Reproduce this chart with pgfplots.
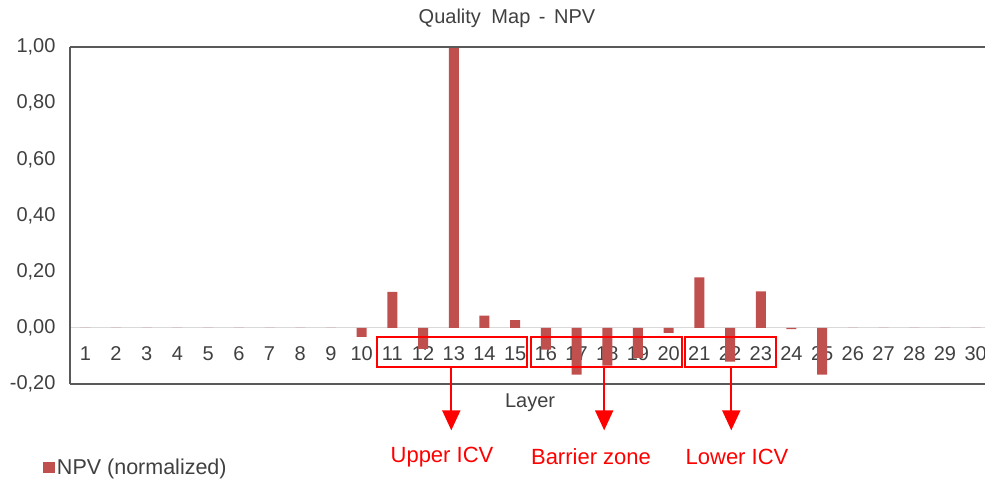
\documentclass[border=0pt]{standalone}
\usepackage{fontspec}
\setmainfont{Liberation Sans}
\usepackage{pgfplots}
\pgfplotsset{compat=1.18}
\usetikzlibrary{arrows.meta}
\definecolor{barred}{HTML}{C0504D}
\definecolor{txt}{HTML}{404040}
\definecolor{axisline}{HTML}{595959}
\definecolor{zeroline}{HTML}{D9D9D9}
\newcommand{\lblfont}{\fontsize{20bp}{24bp}\selectfont}
\newcommand{\legfont}{\fontsize{21.5bp}{25bp}\selectfont}
\newcommand{\notefont}{\fontsize{22bp}{26bp}\selectfont}

\begin{document}
\begin{tikzpicture}[x=1bp,y=1bp]
\useasboundingbox (0,0) rectangle (985,481);
\begin{axis}[
  at={(70bp,97bp)}, anchor=south west,
  width=921bp, height=337bp, scale only axis,
  xmin=0.5, xmax=30.5, ymin=-0.2, ymax=1.0,
  axis y line*=left, axis x line*=middle,
  hide obscured x ticks=false, hide obscured y ticks=false,
  x axis line style={zeroline, line width=1bp},
  y axis line style={axisline, line width=1.5bp},
  xtick={1,...,30},
  ytick={-0.2,0,0.2,0.4,0.6,0.8,1.0},
  major tick length=0,
  ticklabel style={font=\lblfont, text=txt},
  xticklabel style={yshift=-15.5bp, /pgf/number format/assume math mode=true},
  yticklabel style={xshift=-11bp,
    /pgf/number format/.cd, fixed, fixed zerofill, precision=2, use comma, assume math mode=true},
  xlabel={Layer},
  xlabel style={at={(axis description cs:0.4995,-0.056)}, anchor=center, font=\lblfont, text=txt},
  legend style={at={(axis description cs:-0.029,-0.249)}, anchor=west, draw=none, fill=none,
    font=\legfont, text=txt, inner sep=0pt, nodes={inner sep=1.5bp}},
  legend image code/.code={\fill[barred] (0bp,-5.5bp) rectangle (12bp,5.5bp);},
  clip=false,
]
% normalized NPV per layer
\addplot[ybar, bar width=10bp, bar shift=0pt, fill=barred, draw=none] coordinates {
  (1,0) (2,0) (3,0) (4,0) (5,0) (6,0) (7,0) (8,0) (9,0)
  (10,-0.032) (11,0.128) (12,-0.075) (13,1.00) (14,0.043) (15,0.027)
  (16,-0.078) (17,-0.167) (18,-0.135) (19,-0.107) (20,-0.018)
  (21,0.180) (22,-0.120) (23,0.130) (24,-0.005) (25,-0.167)
  (26,0) (27,0) (28,0) (29,0) (30,0)
};
\addlegendentry{NPV (normalized)}
% frame lines at top and bottom
\draw[axisline, line width=1.5bp] (rel axis cs:0,1) -- (rel axis cs:1,1);
\draw[axisline, line width=1.5bp] (rel axis cs:0,0) -- (rel axis cs:1,0);
% zone boxes
\draw[red, line width=2bp] (axis cs:10.51,-0.032) rectangle (axis cs:15.40,-0.139);
\draw[red, line width=2bp] (axis cs:15.53,-0.032) rectangle (axis cs:20.45,-0.139);
\draw[red, line width=2bp] (axis cs:20.54,-0.032) rectangle (axis cs:23.48,-0.139);
% arrows to zone labels
\draw[red, line width=2bp, -{Triangle[width=18bp,length=20bp]}] (axis cs:12.92,-0.139) -- (axis cs:12.92,-0.365);
\draw[red, line width=2bp, -{Triangle[width=18bp,length=20bp]}] (axis cs:17.90,-0.139) -- (axis cs:17.90,-0.365);
\draw[red, line width=2bp, -{Triangle[width=18bp,length=20bp]}] (axis cs:22.04,-0.139) -- (axis cs:22.04,-0.365);
\end{axis}
\node[font=\lblfont, text=txt] at (507,463) {Quality\hspace{5bp} Map\hspace{3bp} -\hspace{3bp} NPV};
\node[font=\notefont, text=red] at (442,24) {Upper ICV};
\node[font=\notefont, text=red] at (591,24) {Barrier zone};
\node[font=\notefont, text=red] at (737,24) {Lower ICV};
\end{tikzpicture}
\end{document}
